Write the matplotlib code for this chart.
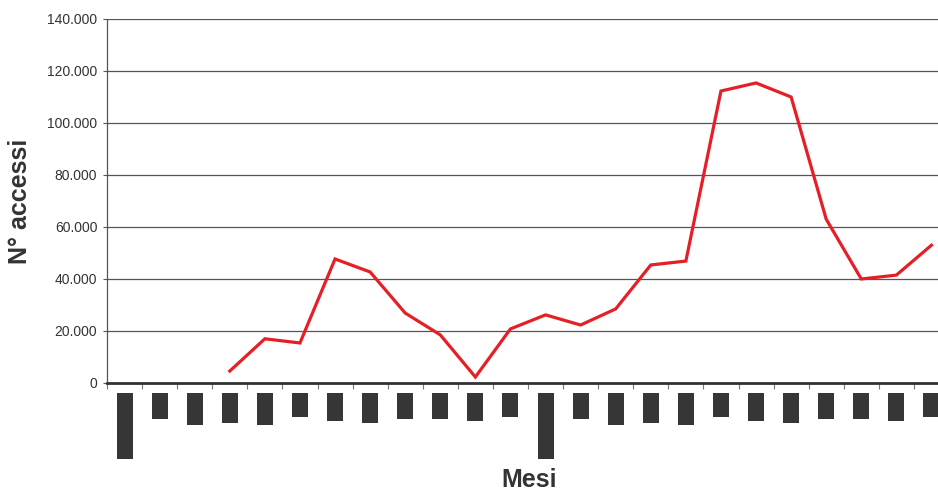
import matplotlib
matplotlib.use("Agg")
import matplotlib.pyplot as plt
from matplotlib.ticker import FuncFormatter

plt.rcParams['font.family'] = ['Liberation Sans', 'DejaVu Sans']

# Data
months = list(range(24))
accessi = [None, None, None, 4600, 17000, 15400, 47700, 42700, 26900, 18500,
           2300, 20800, 26200, 22300, 28500, 45400, 46900, 112300, 115400,
           110000, 63000, 40000, 41500, 53000]
# hidden month labels, drawn as dark blocks (length in px)
label_len = [66, 26, 32, 30, 32, 24, 28, 30, 26, 26, 28, 24,
             66, 26, 32, 30, 32, 24, 28, 30, 26, 26, 28, 24]
yticks = [0, 20000, 40000, 60000, 80000, 100000, 120000, 140000]

W, H = 938, 493
fig = plt.figure(figsize=(W / 100, H / 100), dpi=100)
# the plot area runs a little past the right edge of the picture
ax = fig.add_axes([107/W, 1-383/H, 842/W, 364/H])

xs = [m for m, v in zip(months, accessi) if v is not None]
ys = [v for v in accessi if v is not None]
ax.plot(xs, ys, color='#e61f27', lw=2.3, solid_joinstyle='miter', zorder=3)

ax.set_xlim(-0.5, 23.5)
ax.set_ylim(0, 140000)
ax.set_yticks(yticks)
ax.yaxis.set_major_formatter(FuncFormatter(lambda v, p: f"{int(v):,}".replace(",", ".")))
ax.grid(axis='y', color='#555555', lw=0.9)
ax.set_axisbelow(True)
ax.set_xticks([k - 0.5 for k in range(25)])
ax.set_xticklabels([])
ax.tick_params(axis='x', direction='out', length=4, color='#777777', width=0.8)
ax.tick_params(axis='y', direction='out', length=3, color='#555555', width=0.8,
               labelsize=10, labelcolor='#333333', pad=4)
for s in ['top', 'right']:
    ax.spines[s].set_visible(False)
ax.spines['left'].set_color('#555555')
ax.spines['left'].set_linewidth(0.9)
ax.spines['bottom'].set_color('#333333')
ax.spines['bottom'].set_linewidth(2)

# axis for the month label blocks
lab = fig.add_axes([107/W, 1-459/H, 842/W, 66/H])
lab.bar(months, label_len, width=0.456, color='#363636', align='center')
lab.set_xlim(-0.5, 23.5)
lab.set_ylim(66, 0)
lab.axis('off')

fig.text(20/W, 1-201/H, "N° accessi", fontsize=18, fontweight='bold', color='#333333',
         rotation=90, ha='center', va='center')
fig.text(529/W, 1-492/H, "Mesi", fontsize=18, fontweight='bold', color='#333333',
         ha='center', va='bottom')

fig.savefig("out.png", dpi=100)
